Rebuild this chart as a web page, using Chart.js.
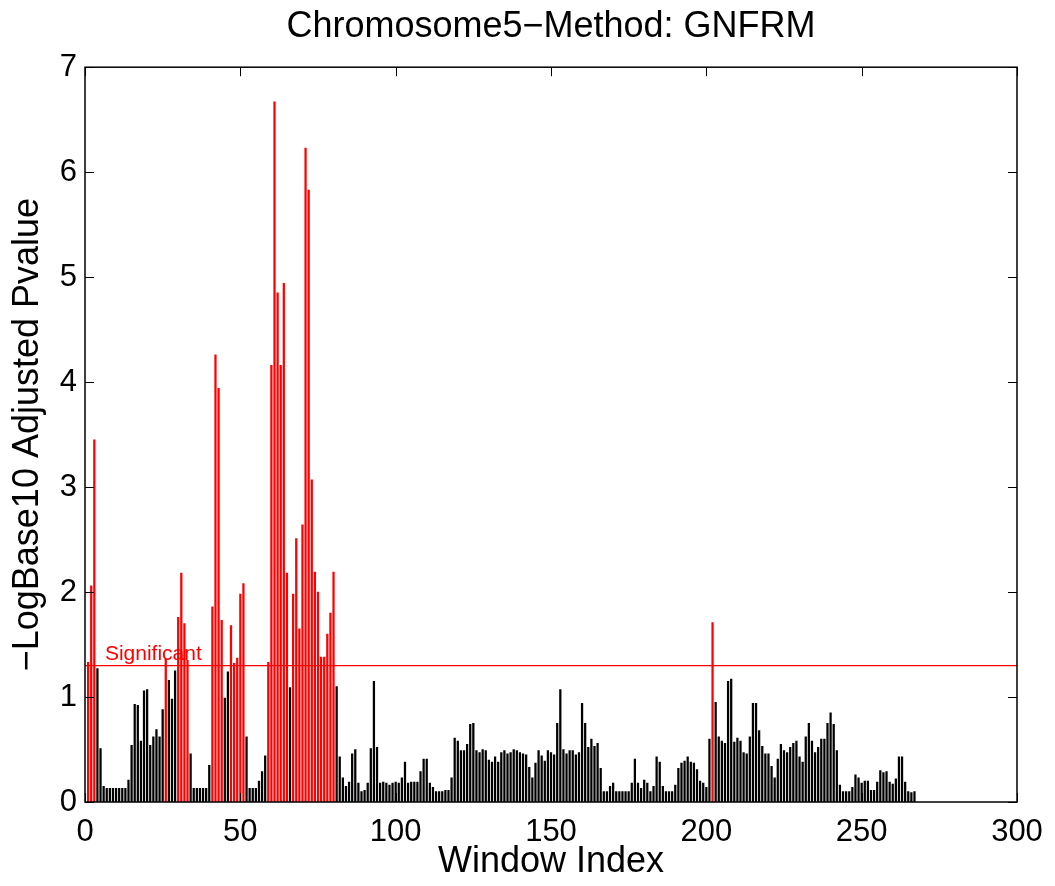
<!DOCTYPE html>
<html>
<head>
<meta charset="utf-8">
<script src="https://cdn.jsdelivr.net/npm/chart.js@4.4.1/dist/chart.umd.min.js"></script>
<style>
  html, body { margin: 0; padding: 0; background: #fff; }
</style>
</head>
<body>
<canvas id="chart" width="1055" height="886"></canvas>
<script>
// window indices start at 1, one value per window
const firstWindow = 1;
const pvalues = [
  1.33, 2.06, 3.45, 1.27, 0.51, 0.15, 0.13, 0.13, 0.13, 0.13,
  0.13, 0.13, 0.13, 0.21, 0.54, 0.93, 0.92, 0.58, 1.06, 1.07,
  0.54, 0.62, 0.69, 0.62, 0.88, 1.36, 1.16, 0.98, 1.25, 1.76,
  2.18, 1.70, 1.35, 0.46, 0.13, 0.13, 0.13, 0.13, 0.13, 0.35,
  1.86, 4.26, 3.94, 1.73, 0.99, 1.24, 1.68, 1.32, 1.37, 1.98,
  2.08, 0.62, 0.13, 0.13, 0.13, 0.20, 0.29, 0.44, 1.33, 4.16,
  6.67, 4.85, 4.16, 4.94, 2.18, 1.09, 1.98, 2.51, 1.65, 2.64,
  6.23, 5.83, 3.07, 2.19, 2.00, 1.38, 1.38, 1.60, 1.80, 2.19,
  1.10, 0.43, 0.23, 0.15, 0.19, 0.46, 0.50, 0.18, 0.10, 0.11,
  0.18, 0.51, 1.15, 0.52, 0.18, 0.19, 0.18, 0.16, 0.18, 0.19,
  0.18, 0.23, 0.38, 0.18, 0.19, 0.19, 0.19, 0.29, 0.41, 0.41,
  0.18, 0.14, 0.10, 0.10, 0.10, 0.11, 0.11, 0.23, 0.61, 0.58,
  0.49, 0.49, 0.55, 0.74, 0.75, 0.49, 0.47, 0.50, 0.49, 0.40,
  0.38, 0.43, 0.38, 0.47, 0.49, 0.46, 0.47, 0.50, 0.49, 0.47,
  0.46, 0.45, 0.33, 0.23, 0.37, 0.49, 0.44, 0.39, 0.49, 0.47,
  0.45, 0.75, 1.07, 0.50, 0.46, 0.49, 0.49, 0.45, 0.47, 0.94,
  0.75, 0.52, 0.60, 0.53, 0.56, 0.32, 0.10, 0.10, 0.15, 0.18,
  0.10, 0.10, 0.10, 0.10, 0.10, 0.18, 0.41, 0.18, 0.13, 0.21,
  0.18, 0.10, 0.15, 0.43, 0.38, 0.15, 0.10, 0.10, 0.10, 0.16,
  0.32, 0.37, 0.39, 0.43, 0.38, 0.37, 0.31, 0.20, 0.18, 0.14,
  0.60, 1.71, 0.95, 0.62, 0.58, 0.56, 1.15, 1.17, 0.57, 0.61,
  0.58, 0.47, 0.46, 0.62, 0.94, 0.94, 0.68, 0.53, 0.46, 0.46,
  0.34, 0.23, 0.41, 0.55, 0.49, 0.47, 0.52, 0.56, 0.58, 0.43,
  0.38, 0.62, 0.75, 0.58, 0.47, 0.52, 0.60, 0.60, 0.75, 0.85,
  0.74, 0.49, 0.16, 0.10, 0.10, 0.10, 0.14, 0.26, 0.23, 0.18,
  0.20, 0.20, 0.11, 0.11, 0.19, 0.30, 0.28, 0.29, 0.19, 0.17,
  0.22, 0.43, 0.43, 0.19, 0.10, 0.09, 0.10
];
const xTicks = [0, 50, 100, 150, 200, 250, 300];
const yTicks = [0, 1, 2, 3, 4, 5, 6, 7];
const threshold = 1.3;
const thresholdLabel = "Significant";
const thresholdLabelAt = 6.4;

const FONT = "'Liberation Sans', Arial, Helvetica, sans-serif";

const points = pvalues.map((v, k) => ({ x: firstWindow + k, y: v }));
const colors = pvalues.map(v => v > threshold ? "#ff0000" : "#000000");

// MATLAB-ish box with inward ticks, plus the threshold caption
const boxAxes = {
  id: "boxAxes",
  afterDatasetsDraw(chart) {
    const { ctx, chartArea: a, scales: { x, y } } = chart;
    const tl = 9;
    ctx.save();
    ctx.strokeStyle = "#000";
    ctx.lineWidth = 1;
    ctx.beginPath();
    xTicks.forEach(v => {
      const px = Math.round(x.getPixelForValue(v)) + 0.5;
      ctx.moveTo(px, a.bottom); ctx.lineTo(px, a.bottom - tl);
      ctx.moveTo(px, a.top); ctx.lineTo(px, a.top + tl);
    });
    yTicks.forEach(v => {
      const py = Math.round(y.getPixelForValue(v)) + 0.5;
      ctx.moveTo(a.left, py); ctx.lineTo(a.left + tl, py);
      ctx.moveTo(a.right, py); ctx.lineTo(a.right - tl, py);
    });
    ctx.stroke();
    ctx.lineWidth = 1.5;
    ctx.strokeRect(a.left, a.top, a.right - a.left, a.bottom - a.top);

    ctx.fillStyle = "#ff0000";
    ctx.font = "21px " + FONT;
    ctx.textAlign = "left";
    ctx.textBaseline = "alphabetic";
    ctx.fillText(thresholdLabel, x.getPixelForValue(thresholdLabelAt), y.getPixelForValue(threshold) - 6);
    ctx.restore();
  }
};

new Chart(document.getElementById("chart"), {
  data: {
    datasets: [
      {
        type: "line",
        data: [{ x: xTicks[0], y: threshold }, { x: xTicks[xTicks.length - 1], y: threshold }],
        borderColor: "#ff0000",
        borderWidth: 1.2,
        pointRadius: 0,
        order: 0
      },
      {
        type: "bar",
        data: points,
        backgroundColor: colors,
        borderWidth: 0,
        barThickness: 1.6,
        grouped: false,
        order: 1
      }
    ]
  },
  options: {
    responsive: false,
    animation: false,
    layout: { padding: { left: 0, right: 38, top: 0, bottom: 0 } },
    plugins: {
      legend: { display: false },
      tooltip: { enabled: false },
      title: {
        display: true,
        fullSize: false,
        text: "Chromosome5\u2212Method: GNFRM",
        color: "#000",
        font: { family: FONT, size: 36, weight: "normal" },
        padding: { top: 5, bottom: 19 }
      }
    },
    scales: {
      x: {
        type: "linear",
        min: 0,
        max: 300,
        offset: false,
        grid: { display: false, drawTicks: false, offset: false },
        border: { display: false },
        ticks: {
          stepSize: 50,
          maxRotation: 0,
          padding: 12,
          color: "#000",
          font: { family: FONT, size: 31 }
        },
        title: {
          display: true,
          text: "Window Index",
          color: "#000",
          font: { family: FONT, size: 36 },
          padding: { top: 0, bottom: 2 }
        },
        afterFit(s) { s.height = 84; }
      },
      y: {
        min: 0,
        max: 7,
        grid: { display: false, drawTicks: false },
        border: { display: false },
        ticks: {
          stepSize: 1,
          padding: 8,
          color: "#000",
          font: { family: FONT, size: 31 }
        },
        title: {
          display: true,
          text: "\u2212LogBase10 Adjusted Pvalue",
          color: "#000",
          font: { family: FONT, size: 36 },
          padding: { top: 6, bottom: 0 }
        },
        afterFit(s) { s.width = 85; }
      }
    }
  },
  plugins: [boxAxes]
});
</script>
</body>
</html>
